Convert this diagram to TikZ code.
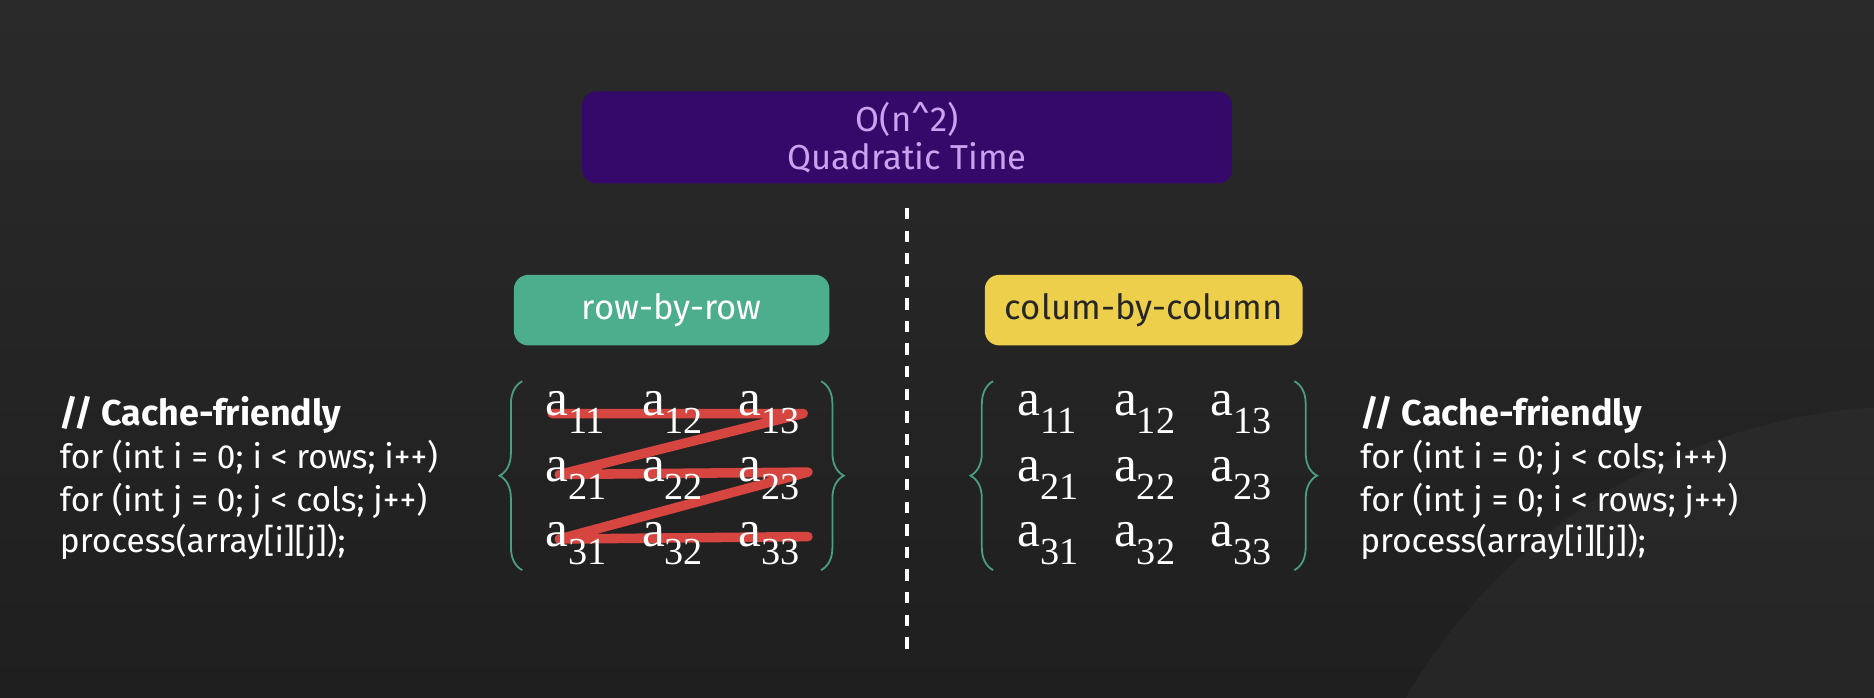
\documentclass[tikz,border=0pt]{standalone}
\usepackage{fontspec}
\setmainfont{Fira Sans}
\newfontfamily\matfont{Liberation Serif}
\usetikzlibrary{decorations.pathreplacing}

\definecolor{bgtop}{HTML}{2A2A2A}
\definecolor{bgbot}{HTML}{1F1F1F}
\definecolor{titlepurple}{HTML}{35096A}
\definecolor{titletext}{HTML}{C9A3EE}
\definecolor{rowgreen}{HTML}{4DAE8E}
\definecolor{colyellow}{HTML}{EECF4B}
\definecolor{coltext}{HTML}{262626}
\definecolor{bracegreen}{HTML}{4A9E82}
\definecolor{zigred}{HTML}{D6453F}

\newcommand\idx[1]{\raisebox{-15pt}{\fontsize{32}{32}\selectfont #1}}

\begin{document}
\begin{tikzpicture}[x=1pt, y=-1pt,
	tagbox/.style 2 args = {rectangle, rounded corners=12pt, minimum height=59pt,
	                        fill=#1, text=#2, font=\fontsize{29}{29}\selectfont},
	codeline/.style = {anchor=base west, inner sep=0pt, text=white,
	                   font=\fontsize{28}{28}\selectfont},
	entry/.style = {anchor=base west, inner sep=0pt, text=white,
	                font=\matfont\fontsize{43}{43}\selectfont},
	bracket/.style = {decorate, decoration={brace, amplitude=19pt},
	                  draw=bracegreen, line width=1.5pt},
	zigzag/.style = {draw=zigred, line width=8pt, line cap=round, line join=round}]
	%% Background
	\useasboundingbox (0,0) rectangle (1568,584);
	\fill [top color=bgtop, bottom color=bgbot] (0,0) rectangle (1568,584);
	\fill [white, opacity=0.03] (1600,830) circle (490pt);

	%% Title, separator and tags
	\node [tagbox={titlepurple}{titletext}, minimum width=544pt, minimum height=77pt,
	       align=center, font=\fontsize{29}{32}\selectfont] (title) at (759,115)
	       {O(n\textasciicircum 2)\\Quadratic Time};
	\draw [white, line width=3.3pt, dash pattern=on 9.5pt off 9.4pt] (759,174) -- (759,545);
	\node [tagbox={rowgreen}{white}, minimum width=264pt] (rowtag) at (562,259.5) {row-by-row};
	\node [tagbox={colyellow}{coltext}, minimum width=266pt] (coltag) at (957,259.5) {colum-by-column};

	%% Row-by-row walk
	\draw [zigzag] (462,346) -- (672,346) -- (468,397) -- (676,395) -- (468,451) -- (676,449);

	%% Matrices
	\foreach \r/\y in {1/348,2/403,3/457}
	  \foreach \c/\x in {1/456,2/537,3/618} {
	    \node [entry] (l\r\c) at (\x,\y) {a\idx{\r\c}};
	    \node [entry] (r\r\c) at (\x+395,\y) {a\idx{\r\c}};
	  }
	\draw [bracket] (437,477) -- (437,319);
	\draw [bracket] (687,319) -- (687,477);
	\draw [bracket] (831,477) -- (831,319);
	\draw [bracket] (1083,319) -- (1083,477);

	%% Code
	\node [codeline, font=\bfseries\fontsize{30}{30}\selectfont] (lhead) at (50,356) {// Cache-friendly};
	\node [codeline] (lfor1) at (50,392) {for (int i = 0; i < rows; i++)};
	\node [codeline] (lfor2) at (50,428) {for (int j = 0; j < cols; j++)};
	\node [codeline] (lproc) at (50,462) {process(array[i][j]);};
	\node [codeline, font=\bfseries\fontsize{30}{30}\selectfont] (rhead) at (1138,356) {// Cache-friendly};
	\node [codeline] (rfor1) at (1138,392) {for (int i = 0; j < cols; i++)};
	\node [codeline] (rfor2) at (1138,428) {for (int j = 0; i < rows; j++)};
	\node [codeline] (rproc) at (1138,462) {process(array[i][j]);};
\end{tikzpicture}
\end{document}
